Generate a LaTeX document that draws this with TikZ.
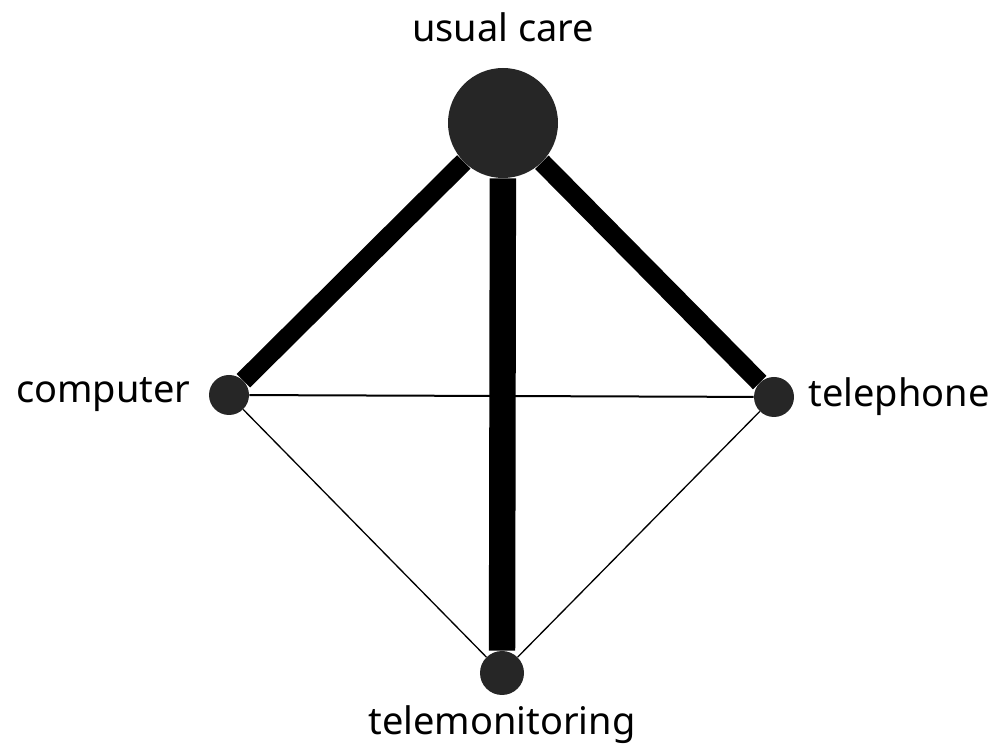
\documentclass[tikz,border=0pt]{standalone}
\usepackage{fontspec}
\setmainfont{Noto Sans}
\usetikzlibrary{positioning,backgrounds}

\begin{document}
\begin{tikzpicture}[%
  x=0.25mm, y=-0.25mm,
  trt/.style = {circle, fill=black!85, inner sep=0pt},
  lbl/.style = {font=\fontsize{27}{32}\selectfont, inner sep=0pt},
  heavy/.style = {line width=4.75mm},
  heavier/.style = {line width=6.6mm},
  light/.style = {line width=0.5mm},
  lighter/.style = {line width=0.33mm},
]
  \useasboundingbox (0,0) rectangle (1007,750);

  % treatments
  \node[trt, minimum size=27.5mm] (uc) at (503,123) {};
  \node[trt, minimum size=10mm] (cmp) at (229,395) {};
  \node[trt, minimum size=10mm] (tel) at (774,397) {};
  \node[trt, minimum size=11mm] (tm) at (502,673) {};

  \node[lbl, above=6.5mm of uc] (ucl) {usual care};
  \node[lbl, left=4.5mm of cmp] (cmpl) {computer};
  \node[lbl, right=3.5mm of tel] (tell) {telephone};
  \node[lbl, below=2.4mm of tm] (tml) {telemonitoring};

  % comparisons
  \begin{scope}[on background layer]
    \draw[heavy] (uc) -- (cmp);
    \draw[heavy] (uc) -- (tel);
    \draw[heavier] (uc) -- (tm);
    \draw[light] (cmp) -- (tel);
    \draw[lighter] (cmp) -- (tm);
    \draw[lighter] (tel) -- (tm);
  \end{scope}

\end{tikzpicture}
\end{document}
